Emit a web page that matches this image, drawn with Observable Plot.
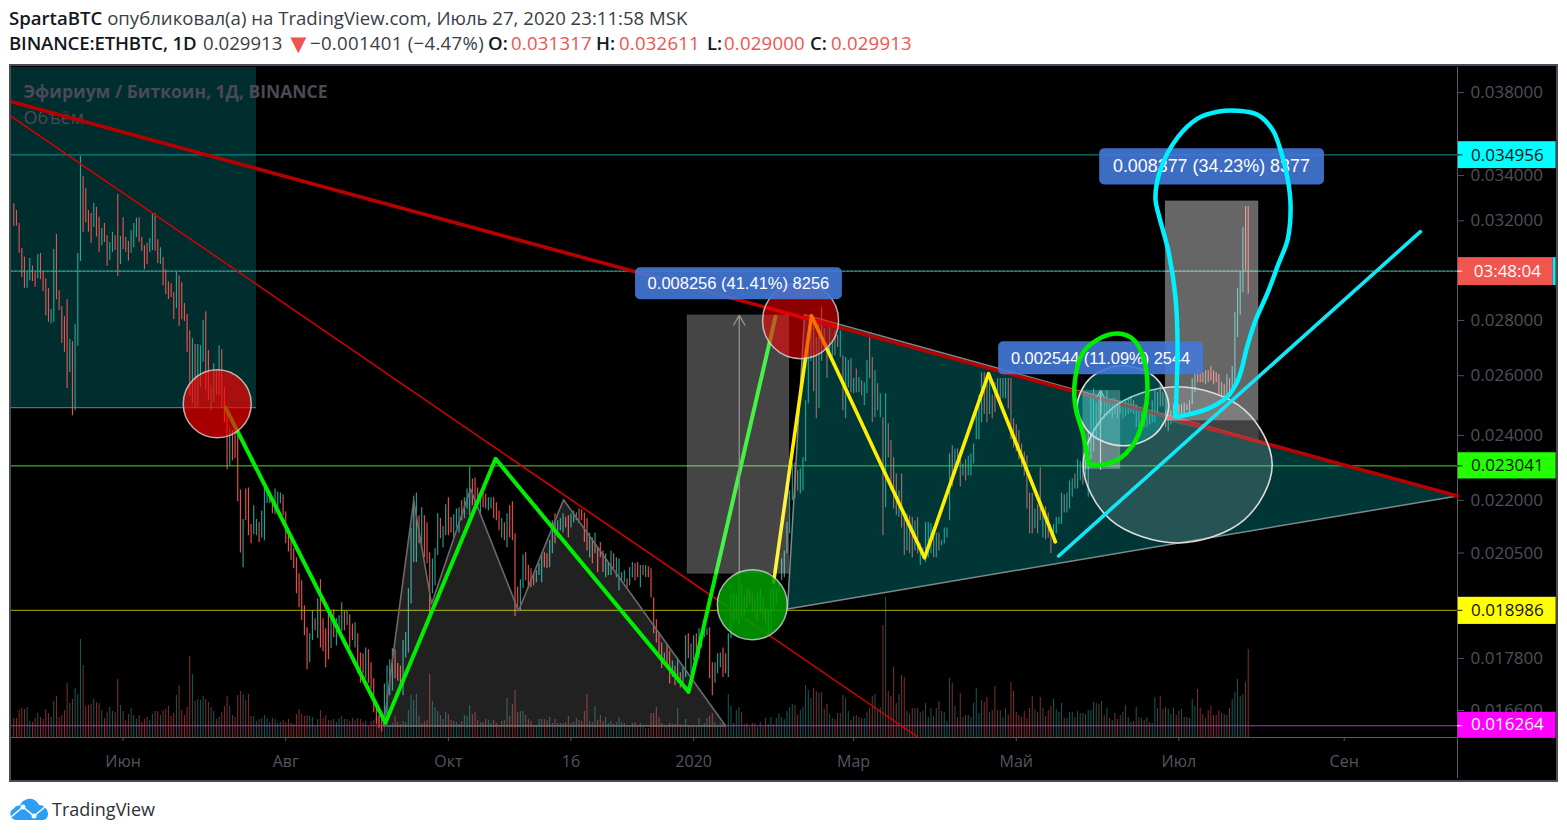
<!DOCTYPE html>
<html lang="ru"><head><meta charset="utf-8">
<script src="https://cdn.jsdelivr.net/npm/d3@7"></script>
<script src="https://cdn.jsdelivr.net/npm/@observablehq/plot@0.6"></script>
<style>
html,body{margin:0;padding:0;background:#fff;width:1567px;height:836px;overflow:hidden}
.h{position:absolute;font:18.6px "Open Sans",sans-serif;color:#3a3d46;white-space:nowrap}
.h b,b.h{color:#131722;font-weight:600}
.h i,i.h{font-style:normal;color:#f05350}
#frame{position:absolute;left:9px;top:64px;width:1549px;height:718px;box-sizing:border-box;border:2px solid #4a4b57;background:#000;overflow:hidden}
#foot{position:absolute;left:10px;top:797px;display:flex;align-items:center;font:18px "Open Sans",sans-serif;color:#2e3038}
</style></head><body>
<div class="h" style="left:9px;top:5px"><b>SpartaBTC</b> опубликовал(а) на TradingView.com, Июль 27, 2020 23:11:58 MSK</div>
<b class="h" style="left:9px;top:30px;letter-spacing:-.15px">BINANCE:ETHBTC, 1D</b>
<span class="h" style="left:203px;top:30px">0.029913</span>
<i class="h" style="left:285px;top:34px;font-size:27px;line-height:18px">▼</i>
<span class="h" style="left:310px;top:30px;letter-spacing:.3px">−0.001401 (−4.47%)</span>
<b class="h" style="left:488px;top:30px">O:</b><i class="h" style="left:511px;top:30px;letter-spacing:.2px">0.031317</i>
<b class="h" style="left:596px;top:30px">H:</b><i class="h" style="left:619px;top:30px;letter-spacing:.2px">0.032611</i>
<b class="h" style="left:707px;top:30px">L:</b><i class="h" style="left:724px;top:30px;letter-spacing:.2px">0.029000</i>
<b class="h" style="left:810px;top:30px">C:</b><i class="h" style="left:831px;top:30px;letter-spacing:.2px">0.029913</i>
<div id="frame"></div>
<div id="foot"><svg width="40" height="24" viewBox="0 0 40 24"><path d="M6 23a6 6 0 0 1-2-11.5C5 9 8 8 10 8.500 12 3 18 1 22 2c4 1 6 4 7 6 5 0 9 4 9 9 0 3-2 6-5 6z" fill="#2e9ef4"/><path d="M1 20 L13 10 L24 19 L36 9" fill="none" stroke="#fff" stroke-width="1.500"/><circle cx="13" cy="10" r="2.500" fill="#fff"/><circle cx="24" cy="19" r="2.500" fill="#fff"/></svg><span style="margin-left:2px">TradingView</span></div>
<script>
// Daily bars, one per day from 21 Apr 2019; prices in units of 0.00001 BTC
const high = [
3274,3244,3189,3083,3048,2986,3042,3013,2985,3059,
3063,2990,2961,2922,2841,3079,3141,2914,2852,2814,
2879,2729,2721,2784,3063,3488,3395,3341,3244,3231,
3276,3259,3215,3167,3189,3137,3108,3151,3137,3315,
3133,3213,3130,3112,3158,3189,3211,3213,3130,3095,
3105,3125,3227,3231,3120,3087,3046,2997,2949,2941,
2906,2986,2973,2945,2864,2822,2762,2732,2711,2711,
2707,2799,2833,2689,2565,2642,2617,2707,2692,2559,
2487,2425,2415,2438,2415,2231,2144,2234,2237,2130,
2184,2144,2136,2169,2237,2234,2228,2208,2234,2225,
2222,2216,2166,2118,2098,2062,2037,1994,1975,1910,
1855,1840,1897,1877,1928,1978,1877,1852,1897,1897,
1900,1877,1885,1918,1897,1897,1887,1864,1867,1840,
1793,1791,1805,1801,1770,1732,1666,1648,1652,1720,
1762,1777,1803,1801,1768,1762,1823,1843,1954,2120,
2213,2222,2155,2178,2155,2135,2051,2034,2062,2161,
2147,2124,2187,2208,2150,2158,2175,2178,2199,2208,
2234,2301,2264,2267,2237,2222,2246,2219,2208,2208,
2208,2193,2169,2147,2135,2161,2184,2196,2104,1959,
1978,2045,2051,2016,2007,1994,2002,2021,2048,2051,
2048,2084,2141,2161,2141,2147,2161,2150,2155,2161,
2169,2164,2175,2172,2163,2147,2106,2092,2106,2064,
2079,2056,2048,2024,2056,2048,2037,2034,1997,2002,
1980,2010,2024,2021,2024,2016,2016,2016,2013,2007,
1931,1875,1843,1817,1793,1815,1798,1774,1762,1781,
1746,1762,1835,1840,1815,1835,1840,1852,1847,1867,
1852,1855,1770,1770,1791,1793,1805,1791,1840,1941,
1941,1936,1997,1967,1936,1954,1954,1944,1928,1944,
1954,1931,1905,1897,1954,1954,1954,1967,2034,2056,
2136,2228,2311,2314,2289,2295,2330,2514,2743,2818,
2810,2736,2799,2848,2770,2714,2780,2725,2762,2744,
2762,2671,2664,2653,2660,2590,2624,2594,2583,2576,
2653,2752,2664,2617,2572,2538,2458,2538,2438,2383,
2329,2279,2228,2279,2161,2161,2155,2150,2141,2150,
2076,2064,2136,2136,2132,2104,2106,2106,2084,2120,
2120,2341,2367,2357,2357,2329,2310,2323,2335,2342,
2373,2494,2534,2610,2610,2590,2610,2534,2576,2590,
2590,2590,2590,2590,2590,2454,2435,2415,2373,2347,
2335,2221,2221,2175,2187,2298,2175,2181,2163,2118,
2130,2150,2150,2221,2216,2221,2258,2264,2279,2323,
2317,2304,2323,2415,2521,2555,2507,2534,2548,2527,
2548,2514,2521,2521,2514,2514,2494,2514,2521,2527,
2514,2501,2481,2487,2501,2481,2474,2514,2548,2541,
2576,2541,2481,2468,2481,2501,2501,2501,2501,2507,
2501,2514,2590,2610,2639,2617,2610,2617,2617,2632,
2617,2610,2603,2576,2569,2603,2590,2632,2830,2922,
2990,3170,3261,3261];
const low = [
3177,3177,3064,2966,2923,2922,2953,2950,2927,2961,
2957,2911,2818,2793,2788,2793,2879,2837,2715,2683,
2556,2611,2464,2481,2705,3030,3151,3192,3151,3105,
3171,3131,3068,3095,3108,3011,3034,3067,3075,2970,
3018,3079,3068,3031,3064,3087,3129,3109,3072,2997,
3018,3067,3075,3072,3022,3018,2933,2899,2880,2887,
2804,2845,2778,2803,2796,2683,2528,2504,2489,2494,
2559,2647,2548,2514,2481,2508,2532,2532,2489,2440,
2292,2304,2320,2326,2196,2050,2010,2141,2098,2076,
2101,2098,2079,2092,2084,2190,2190,2161,2158,2161,
2190,2155,2076,2053,2029,2007,1941,1905,1872,1835,
1753,1770,1823,1847,1828,1805,1796,1758,1777,1803,
1830,1810,1847,1845,1847,1860,1805,1823,1805,1744,
1722,1744,1732,1722,1708,1655,1630,1621,1613,1630,
1637,1693,1704,1732,1727,1708,1693,1781,1793,1915,
2024,2024,2076,2064,2037,2021,1885,1941,1962,2043,
2090,2064,2098,2098,2106,2092,2120,2106,2141,2147,
2175,2155,2184,2178,2175,2155,2178,2175,2169,2175,
2147,2141,2112,2092,2084,2064,2092,2084,1882,1897,
1897,1954,1975,1954,1957,1962,1970,1989,1970,2010,
2007,2010,2048,2076,2092,2112,2106,2120,2092,2120,
2135,2141,2133,2141,2079,2056,2037,2021,2048,1997,
2037,1997,1983,1989,1989,2007,1983,1949,1975,1970,
1957,1962,1983,1975,1983,1957,1989,1983,1983,1930,
1840,1817,1791,1756,1767,1762,1720,1735,1716,1722,
1711,1722,1735,1779,1744,1774,1781,1779,1805,1830,
1835,1732,1693,1722,1744,1758,1735,1744,1735,1828,
1867,1872,1860,1885,1885,1903,1915,1892,1877,1872,
1890,1877,1860,1835,1840,1897,1915,1941,1975,1983,
2048,2104,2199,2205,2228,2219,2228,2317,2504,2650,
2545,2454,2488,2650,2696,2590,2678,2653,2671,2700,
2664,2481,2454,2558,2541,2538,2541,2541,2531,2498,
2538,2590,2441,2458,2481,2458,2098,2178,2329,2228,
2175,2155,2150,2120,2043,2056,2048,2037,2056,2048,
2016,2034,2024,2037,2048,2037,2037,2056,2070,2076,
2092,2141,2240,2279,2310,2240,2273,2258,2273,2273,
2310,2386,2386,2441,2468,2441,2468,2454,2474,2534,
2494,2521,2521,2487,2386,2360,2347,2323,2298,2273,
2175,2104,2104,2118,2104,2141,2092,2087,2092,2048,
2076,2104,2130,2130,2163,2163,2175,2209,2234,2234,
2258,2246,2273,2209,2323,2347,2386,2425,2468,2454,
2461,2468,2454,2468,2454,2468,2454,2461,2468,2474,
2468,2425,2425,2441,2425,2425,2435,2441,2441,2468,
2494,2494,2425,2412,2435,2448,2468,2468,2468,2468,
2481,2468,2501,2541,2576,2576,2576,2569,2576,2583,
2569,2576,2534,2527,2521,2534,2534,2555,2576,2736,
2820,2906,2990,2900];
const direction = [
"rrrrrttrrt","rrrrttrrrr","rtrtttrrrr","trrtrrttrr","trrrtttrrr","rttrrtrrrr","rtrrrrrtrt","ttrrttrtrr",
"rtrrrrtrrr","ttrttttrtt","trrrrrrrrr","rttrtrrrrt","rtttrtrrtr","rrtrrrrrrt","tttrrrtttt","ttrtrrrttt",
"rttrrtttrt","ttrrrtrrtt","rrrtrtrrrr","ttrrrrtttr","rttrtttrrt","ttrrrrtrtr","rrtttrtttt","rttrrtrtrr",
"rrrrtrrtrt","rttrttrttt","trrtttrrtt","tttrtrtrrt","trrttrtttt","tttrrttttt","rrtrtrttrr","trttrtrtrt",
"trrtrtrtrr","rrtrrtrrtr","trtttrtrtt","ttrtrrtrtt","ttttrrtrrt","rttrrrrrrr","rrrtrrtrrr","ttttrtttrt",
"trtttttrtr","trtrrtrttt","rtrtrtrttt","rtrtttrrtt","rtttrrrtrr","rrrtrtrttt","ttrr"].join("");
const volume = [
19,19,27,29,28,30,16,15,19,24,20,18,28,24,20,36,41,20,22,27,
54,34,38,49,43,98,72,31,32,33,38,35,34,27,19,25,30,26,25,58,
32,26,17,23,29,22,18,22,15,18,20,17,23,26,26,22,27,28,31,21,
24,42,52,27,22,30,81,63,36,38,37,41,38,35,30,26,18,20,25,31,
41,31,22,20,42,46,43,37,43,21,21,16,18,19,22,19,15,19,18,14,
15,17,15,18,14,13,23,28,23,21,22,21,20,11,18,27,19,22,17,17,
18,15,19,21,18,18,16,19,17,19,18,15,16,11,16,17,20,22,13,15,
16,10,14,21,15,13,16,15,27,42,37,43,21,14,16,17,63,36,30,26,
22,18,25,23,17,16,15,13,16,22,21,32,23,25,17,15,15,18,17,14,
17,14,11,16,17,39,21,33,47,25,26,26,22,18,16,11,11,18,18,18,
17,20,14,18,14,14,14,15,21,14,15,19,17,16,26,43,16,15,31,17,
22,16,20,14,16,13,15,20,15,14,12,11,14,15,12,14,11,9,9,24,
24,30,20,14,12,12,14,13,13,29,13,12,18,12,12,10,11,19,12,14,
19,21,24,15,12,14,14,12,43,31,14,27,30,25,13,14,10,14,14,10,
15,10,19,13,20,13,19,24,20,18,26,30,33,32,22,27,30,52,47,39,
49,46,44,45,28,33,23,19,18,24,24,42,39,26,17,21,22,20,19,19,
25,29,41,43,27,30,112,140,46,41,70,34,43,62,60,26,23,29,29,29,
25,26,34,20,29,21,29,36,26,25,16,59,54,31,20,44,20,22,22,20,
34,49,24,37,35,40,25,27,51,27,27,20,29,22,55,46,25,22,20,26,
19,29,41,28,25,40,29,21,27,31,38,28,25,34,19,19,25,25,20,26,
24,24,23,27,27,35,34,33,36,22,29,19,17,24,18,22,25,32,20,15,
16,30,20,19,17,20,15,14,40,29,41,28,30,28,23,29,22,26,28,20,
20,19,38,31,48,29,23,19,27,31,22,22,27,24,23,22,29,38,45,58,
41,43,55,88];

// Price levels with their tags on the axis
const levels = [0.034956, 0.029913, 0.023041, 0.018986, 0.016264];
const yTicks = [0.038,0.034,0.032,0.028,0.026,0.024,0.022,0.0205,0.0178,0.0166];
const xTickDates = ["2019-06-01","2019-08-01","2019-10-01","2019-11-16","2020-01-01","2020-03-01","2020-05-01","2020-07-01","2020-09-01"];
const xTickLabels = ["Июн","Авг","Окт","16","2020","Мар","Май","Июл","Сен"];

// Drawings anchored to [bar number, price]
const bigTrend = [[-0.86,0.03754],[541.5,0.02213]];
const thinTrend = [[-0.86,0.0368],[339.3,0.01601]];
const limeZig = [[79.4,0.02491],[139.4,0.01633],[180.7,0.02326],[253.1,0.01702],[285.7,0.02814]];
const yellowZig = [[285,0.01972],[299.2,0.02818],[341.6,0.02037],[365.6,0.02607],[390.7,0.02081]];
const cyanLine = [[391.9,0.02042],[527.6,0.03154]];
const triangle = [[290.2,0.01902],[296.6,0.02822],[541.5,0.02213]];
const headShoulders = [[138.7,0.01626],[150,0.02199],[156.7,0.01915],[171.3,0.02234],[189.3,0.01897],[206.2,0.02202],[267,0.01626]];
const bandShade = [[432,0.02447],[466.9,0.02447],[466.9,0.0238]];
const bigEllipse = [[472,0.02307],[461.6,0.02144],[436.5,0.02078],[411.3,0.02144],[401.1,0.02307],[411.3,0.02484],[436.5,0.02562],[461.6,0.02484]];
const smallEllipse = [[433.2,0.02497],[428.2,0.02405],[416,0.02367],[403.9,0.02405],[398.9,0.02497],[403.9,0.02593],[416,0.02635],[428.2,0.02593]];
const cyanBlob = [[435.7,0.02461],[436.5,0.02707],[435.7,0.0289],[433.1,0.03071],[429.4,0.03227],[428.2,0.03297],[430.1,0.03428],[436.5,0.03578],[444,0.0367],[451.5,0.03704],[459,0.03709],[466.5,0.03689],[472.1,0.03616],[475.1,0.0352],[477.8,0.03386],[478.9,0.03262],[477.8,0.03121],[474.4,0.03022],[470.3,0.02906],[465.7,0.02799],[462.7,0.02707],[459.4,0.0259],[455.2,0.02528],[447.7,0.02487],[436.5,0.02461]];
const limeBlob = [[403.1,0.0231],[401.2,0.02399],[398.2,0.02494],[397.9,0.02576],[400.8,0.02678],[406.5,0.02729],[414,0.02751],[420,0.02729],[423.7,0.02664],[425.2,0.02562],[423.7,0.02454],[420,0.02373],[414,0.02323],[407.6,0.02307],[403.1,0.0231]];
const circles = [
  {b:76.3,p:0.02504,r:34,c:"#ff0000",o:0.66},
  {b:295.1,p:0.02799,r:38,c:"#ff0000",o:0.55},
  {b:277,p:0.01913,r:35,c:"#00a000",o:0.85}];
const measures = [
  {a:252.7,b:290.9,lo:0.019936,hi:0.028192,o:0.27},
  {a:432,b:466.9,lo:0.024473,hi:0.03285,o:0.4},
  {a:401.1,b:415.1,lo:0.02294,hi:0.025484,o:0.3}];
const arrows = [{b:272.1,lo:0.019936,hi:0.028192,c:"#999",h:14},{b:407.6,lo:0.02294,hi:0.025484,c:"#ccc",h:8}];
const labels = [
  {t:"0.008256 (41.41%) 8256",a:233.2,b:310.8,lo:0.02879,hi:0.03005,m:271.8,p:0.02941,s:16.5},
  {t:"0.002544 (11.09%) 2544",a:369.4,b:446.3,lo:0.02603,hi:0.02721,m:407.6,p:0.0266,s:16.4},
  {t:"0.008377 (34.23%) 8377",a:407.3,b:491.6,lo:0.03357,hi:0.03525,m:449.2,p:0.03441,s:17.9}];
const tags = [
  {t:"0.034956",lo:0.03432,hi:0.03558,x2:578.5,bg:"#00ffff",fg:"#111",w:500},
  {t:"03:48:04",lo:0.02934,hi:0.03046,x2:577.4,bg:"#f05550",fg:"#fff",w:700},
  {t:"0.023041",lo:0.02264,hi:0.02345,x2:578.5,bg:"#22ff00",fg:"#111",w:500},
  {t:"0.018986",lo:0.01863,hi:0.01932,x2:578.5,bg:"#ffff00",fg:"#111",w:500},
  {t:"0.016264",lo:0.01601,hi:0.01656,x2:578.5,bg:"#ff00ff",fg:"#fff",w:700}];

const DAY = 864e5, T0 = Date.UTC(2019,3,21);
const t = i => new Date(T0 + i*DAY);
const yMin = 0.01601, yMax = 0.0393;
const volTop = v => yMin*Math.exp(v/746);
const bars = high.map((h,i)=>({date:t(i),high:h*1e-5,low:low[i]*1e-5,up:direction[i]==="t",vol:volTop(volume[i])}));
const pts = a => a.map(([b,p])=>({x:t(b),y:p}));
const tradeLine = (a,stroke,strokeWidth,extra={}) => Plot.line(pts(a),{x:"x",y:"y",stroke,strokeWidth,...extra});
const hline = (p,stroke,extra={}) => Plot.ruleY([p],{x1:t(-0.86),x2:t(541.5),stroke,strokeWidth:1,...extra});
const tickMap = new Map(xTickDates.map((d,i)=>[+new Date(d+"T00:00Z"),xTickLabels[i]]));

const chart = Plot.plot({
  width:1545,height:714,marginLeft:0,marginRight:99,marginTop:1,marginBottom:43,
  style:{background:"transparent",fontFamily:"'Open Sans',sans-serif",overflow:"visible"},
  x:{type:"utc",domain:[t(-0.86),t(541.5)],axis:null},
  y:{type:"log",domain:[yMin,yMax],axis:null},
  marks:[
    Plot.rect([0],{x1:t(-0.86),x2:t(91),y1:0.02491,y2:yMax,fill:"#00b3b3",fillOpacity:0.25}),
    Plot.ruleY([0.02491],{x1:t(-0.86),x2:t(91),stroke:"#587070",strokeWidth:1.2}),
    // volume
    Plot.ruleX(bars.filter(d=>d.up),{x:"date",y1:yMin,y2:"vol",stroke:"#26a69a",strokeOpacity:.55,strokeWidth:1}),
    Plot.ruleX(bars.filter(d=>!d.up),{x:"date",y1:yMin,y2:"vol",stroke:"#ef5350",strokeOpacity:.55,strokeWidth:1}),
    // price
    Plot.ruleX(bars.filter(d=>d.up),{x:"date",y1:"low",y2:"high",stroke:"#26a69a",strokeWidth:1.1}),
    Plot.ruleX(bars.filter(d=>!d.up),{x:"date",y1:"low",y2:"high",stroke:"#ef5350",strokeWidth:1.1}),
    // axes lines
    Plot.ruleX([t(541.5)],{y1:0.01515,y2:yMax,stroke:"#5a5b66",strokeWidth:1}),
    Plot.ruleY([yMin],{x1:t(-0.86),x2:t(578.5),stroke:"#5a5b66",strokeWidth:1}),
    Plot.axisX({anchor:"bottom",ticks:xTickDates.map(d=>new Date(d+"T00:00Z")),tickFormat:d=>tickMap.get(+d),tickSize:4,tickPadding:14,color:"#55555f",fontSize:16,label:null}),
    Plot.axisY({anchor:"right",ticks:yTicks,tickFormat:d=>d.toFixed(6),tickSize:6,tickPadding:7,color:"#50505a",fontSize:17,label:null}),
    Plot.text(["Эфириум / Биткоин, 1Д, BINANCE"],{frameAnchor:"top-left",dx:12,dy:18,fill:"#4a4a55",fontSize:17.5,fontWeight:700,textAnchor:"start",lineAnchor:"top"}),
    Plot.text(["Объём"],{frameAnchor:"top-left",dx:12,dy:44,fill:"#4a4a55",fontSize:18,textAnchor:"start",lineAnchor:"top"}),
    // horizontal levels
    hline(levels[0],"#0e9a96"),
    hline(levels[1],"#14b0ac"),
    hline(levels[1],"#ffb0a8",{strokeDasharray:"1.5 2.5",strokeOpacity:.45}),
    hline(levels[2],"#44dd22"),
    hline(levels[3],"#b5b000"),
    hline(levels[4],"#cc22cc"),
    // filled drawings
    tradeLine(bandShade,"none",0,{curve:"linear-closed",fill:"#222"}),
    tradeLine(headShoulders,"#6a6a6a",1.6,{curve:"linear-closed",fill:"#fff",fillOpacity:.13}),
    tradeLine(triangle,"#7a8a8a",1.5,{curve:"linear-closed",fill:"#00b3b3",fillOpacity:.3}),
    // trend lines
    tradeLine(thinTrend,"#d80000",1.5),
    tradeLine(bigTrend,"#b80000",3.6),
    tradeLine(limeZig,"#00ee00",4),
    tradeLine(yellowZig,"#ffee00",3.6),
    // measures
    Plot.rect(measures,{x1:d=>t(d.a),x2:d=>t(d.b),y1:"lo",y2:"hi",fill:"#fff",fillOpacity:d=>d.o,stroke:"#fff",strokeOpacity:.08}),
    ...arrows.map(a=>Plot.arrow([a],{x:d=>t(d.b),y1:"lo",y2:"hi",stroke:a.c,strokeWidth:1.2,headLength:a.h})),
    ...circles.map(c=>Plot.dot([c],{x:d=>t(d.b),y:"p",r:c.r,fill:c.c,fillOpacity:c.o,stroke:"#e0e0e0",strokeOpacity:.75,strokeWidth:1.5})),
    tradeLine(bigEllipse,"#dcdcdc",1.6,{curve:"catmull-rom-closed",fill:"#fff",fillOpacity:.15}),
    tradeLine(smallEllipse,"#e0e0e0",1.6,{curve:"catmull-rom-closed",fill:"#00c0c0",fillOpacity:.35}),
    // labels
    Plot.rect(labels,{x1:d=>t(d.a),x2:d=>t(d.b),y1:"lo",y2:"hi",fill:"#4478d8",fillOpacity:.9,rx:5}),
    Plot.text(labels,{x:d=>t(d.m),y:"p",text:"t",fill:"#fff",fontSize:"s",fontFamily:"'Liberation Sans',sans-serif"}),
    tradeLine(cyanLine,"#10e8f8",3.6),
    tradeLine(limeBlob,"#00ee00",4.5,{curve:"catmull-rom"}),
    tradeLine(cyanBlob,"#00f0ff",4.5,{curve:"catmull-rom"}),
    // axis tags
    Plot.rect(tags,{x1:t(541.8),x2:d=>t(d.x2),y1:"lo",y2:"hi",fill:"bg"}),
    Plot.rect([tags[1]],{x1:t(577.4),x2:t(578.5),y1:"lo",y2:"hi",fill:"#19e6f0"}),
    Plot.text(tags,{x:t(560.2),y:d=>Math.sqrt(d.lo*d.hi),text:"t",fill:"fg",fontSize:17,fontWeight:"w"}),
    ...tags.map((d,i)=>Plot.ruleY([levels[i]],{x1:t(541.5),x2:t(543.5),stroke:d.fg,strokeWidth:1}))
  ]
});
document.getElementById("frame").appendChild(chart);
</script></body></html>
